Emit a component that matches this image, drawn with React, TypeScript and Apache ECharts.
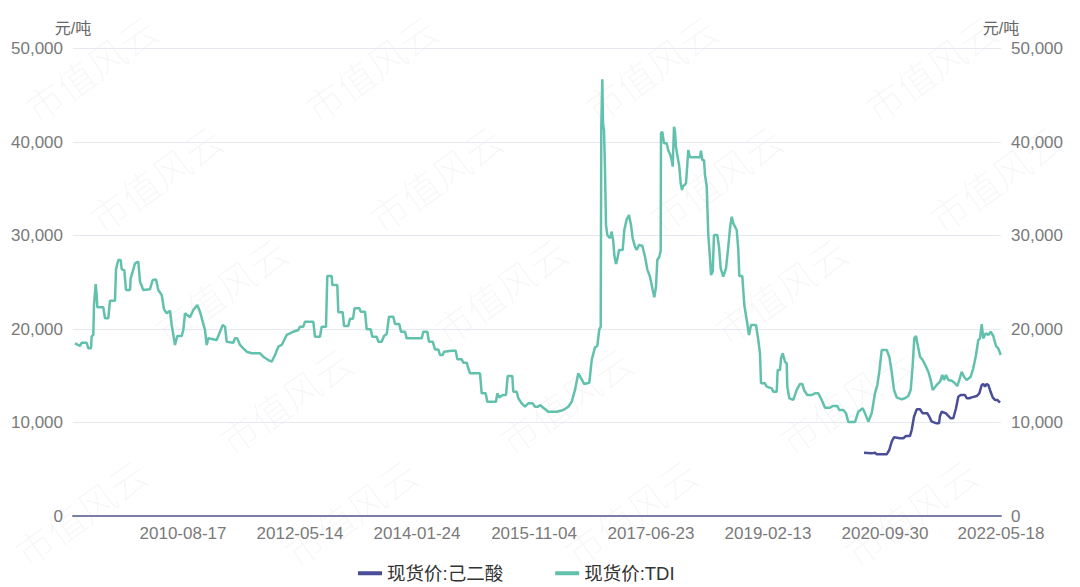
import React, { useEffect, useRef } from "react";
import * as echarts from "echarts";

// x = position index along the (trading-period) category scale
const xLabels = ["2010-08-17", "2012-05-14", "2014-01-24", "2015-11-04", "2017-06-23", "2019-02-13", "2020-09-30", "2022-05-18"];
const xLabelIdx = [110, 227, 344, 461, 578, 695, 812, 928];
const xMax = 928;

const seriesNames = ["现货价:己二酸", "现货价:TDI"];

const adipicData: [number, number][] = [
  [791, 6770], [798.7, 6700], [802, 6770], [803.7, 6600], [813.7, 6600], [816.3, 7060], [818.7, 7950], [821, 8420],
  [827, 8310], [830.3, 8310], [833, 8560], [837, 8560], [838.7, 9200], [841, 10620], [843.7, 11410], [847, 11410],
  [849.7, 10980], [854.3, 10980], [856.3, 10620], [858.7, 10090], [863.7, 9910], [866, 9910], [867, 10700], [868.7, 11150],
  [873, 10980], [875.3, 10700], [877.7, 10450], [880.3, 10450], [883, 11520], [885.3, 12760], [887.7, 12940], [892, 12940],
  [893.7, 12590], [896.3, 12590], [898.7, 12690], [903.7, 12830], [906.3, 13120], [908.7, 14010], [910.3, 14120], [912, 13830],
  [913.7, 14120], [915.3, 14010], [917, 13480], [919.7, 12690], [922, 12410], [924.3, 12410], [927, 12120],
];

const tdiData: [number, number][] = [
  [2, 18470], [7, 18200], [8.7, 18530], [13.7, 18530], [15.3, 17930], [18, 17930], [18.7, 19250], [20.3, 19350],
  [21, 22570], [22.7, 24810], [23.7, 23630], [24.3, 22320], [30.3, 22320], [32, 21140], [35.3, 21140], [37, 23030],
  [42, 23030], [43, 26380], [45.3, 27380], [47.7, 27380], [48.7, 26380], [51.3, 26300], [53, 24170], [57, 24170],
  [57.7, 25420], [59.7, 26130], [62, 27020], [65.3, 27200], [67, 25060], [70.3, 24170], [77, 24250], [79.7, 25240],
  [83, 25310], [85.3, 24170], [88.7, 23630], [91, 22100], [93.7, 21680], [97, 21960], [98.7, 20430], [102, 18290],
  [104.3, 19250], [108.7, 19250], [110.3, 19890], [112, 21680], [117, 21250], [120.3, 22030], [124.3, 22570], [127, 21850],
  [129.7, 20780], [132, 19890], [133.7, 18290], [135.3, 19000], [143.7, 18820], [147, 19710], [149.7, 20430], [152, 20250],
  [153.7, 18640], [160.3, 18530], [162, 19000], [164.3, 19000], [167, 18290], [170.3, 17930], [173.7, 17570], [178.7, 17400],
  [187, 17400], [190.3, 17040], [195.3, 16680], [198.7, 16500], [202, 17220], [205.3, 18110], [208.7, 18290], [213.7, 19360],
  [217, 19540], [220.3, 19710], [225.3, 19890], [227, 20250], [230.3, 20250], [232, 20780], [240.3, 20780], [242, 19180],
  [247, 19180], [248.7, 20250], [253, 20250], [254.3, 25670], [258.7, 25670], [259.3, 24710], [264.3, 24710], [265.3, 21800],
  [269.7, 21800], [271, 20320], [275.3, 20320], [277, 21090], [280, 21090], [281.5, 22210], [286.5, 22210], [287.7, 21850],
  [292, 21850], [293.7, 19960], [297.7, 19960], [299.3, 19180], [303.7, 19180], [305.3, 18640], [308.7, 18640], [311, 19250],
  [313.7, 19460], [316, 21320], [320.3, 21320], [322, 20530], [326.3, 20530], [328, 19710], [332, 19710], [333.7, 19000],
  [348.7, 19000], [350.3, 19710], [354.3, 19710], [356, 18640], [359.7, 18640], [362, 17820], [365.3, 17820], [367, 17220],
  [369.7, 17220], [371, 17570], [378.7, 17680], [382.7, 17680], [384.3, 16760], [388.7, 16760], [390.3, 16400], [393.7, 16400],
  [395.3, 15800], [397, 15260], [407, 15260], [408.7, 13120], [412.7, 13120], [414.3, 12220], [423, 12220], [424.3, 13120],
  [426.3, 12690], [429.7, 12940], [433, 12940], [434.7, 14970], [439.3, 14970], [440.3, 13290], [443.7, 13290], [445.3, 12590],
  [448.7, 12050], [452, 11690], [455.3, 12050], [459.7, 12050], [462, 11690], [465.3, 11690], [467, 11870], [470.3, 11580],
  [475.3, 11150], [483.7, 11150], [490.3, 11340], [495.3, 11690], [498.7, 12220], [502, 13480], [505.3, 15260], [508.7, 14620],
  [511, 14120], [516.3, 14260], [518.7, 16680], [522, 18040], [524.3, 18180], [526.3, 19960], [527.7, 20250], [528.3, 41640],
  [529.3, 46700], [530, 42000], [531, 41280], [532, 37000], [533, 31120], [534.3, 30050], [537, 29700], [538.7, 30410],
  [540.3, 29340], [541.3, 27910], [543, 26950], [544.3, 27450], [546, 28450], [549.7, 28450], [551.3, 30590], [553.7, 31730],
  [556, 32190], [558, 31120], [559.7, 29700], [562, 28800], [563.7, 28450], [566, 28980], [569.3, 28900], [572, 27730],
  [574.3, 26380], [577, 25590], [579.7, 24170], [581.3, 23390], [583, 24520], [584.3, 27380], [586.3, 27730], [587.7, 28370],
  [588, 40930], [589.3, 41100], [591, 39860], [593.7, 39860], [595.3, 39070], [597, 38720], [598.7, 38070], [599.7, 37360],
  [601, 41640], [602, 41100], [603, 39430], [604.3, 38610], [606.3, 37360], [607.7, 35580], [609, 34870], [610.3, 35290],
  [613, 35580], [615.3, 39140], [617, 38360], [627, 38360], [628, 39070], [629.3, 38070], [631, 38070], [632, 36470],
  [633.7, 35290], [635.3, 30050], [637, 27560], [638, 25770], [639.7, 26130], [641, 30050], [644.3, 30050], [646, 28800],
  [647.7, 26490], [650.3, 25590], [653, 26490], [655.3, 28800], [657, 30770], [658.7, 32010], [660.3, 31300], [663.7, 30590],
  [665.3, 28450], [666.3, 25670], [669.3, 25670], [671.3, 22570], [673.7, 20960], [676, 19360], [678, 20430], [683, 20430],
  [685.3, 18820], [687, 17400], [688, 14190], [692, 14190], [693.7, 13830], [698.7, 13650], [700.3, 13290], [703.7, 13290],
  [704.7, 15610], [707, 15610], [708, 16870], [709.7, 17400], [712, 16500], [713.7, 16330], [714.3, 13830], [716.3, 12590],
  [720.3, 12410], [723.7, 13480], [727, 14120], [729.3, 14120], [731, 13480], [734.3, 12940], [738.7, 12940], [742, 13120],
  [745.3, 13120], [748.7, 12410], [752, 11580], [757, 11580], [759.7, 11760], [764.3, 11760], [766.3, 11340], [770.3, 11340],
  [773, 10980], [775.3, 10050], [782, 10050], [785.3, 11150], [789.7, 11520], [792, 10980], [795.3, 10090], [798.7, 10980],
  [802, 13120], [804.3, 14010], [806.3, 15430], [808.7, 17750], [813.7, 17750], [816.3, 17040], [818.7, 15430], [821, 13480],
  [823.7, 12690], [828.7, 12480], [832, 12590], [835.3, 12830], [837.7, 13480], [839.7, 16150], [841.3, 19000], [843, 19250],
  [844.7, 18290], [847, 17040], [849.7, 16680], [853, 15970], [855.3, 15430], [857.7, 14550], [859.7, 13480], [863.7, 14010],
  [867, 14360], [869.3, 15080], [871, 14550], [873, 15080], [875.3, 14550], [878.7, 14470], [882, 14190], [884.3, 13900],
  [886.3, 14550], [888.7, 15430], [891, 14900], [893.7, 14550], [897.7, 14900], [900.3, 15800], [903, 17220], [905.3, 18820],
  [907, 19000], [908.7, 20530], [910.3, 19000], [912.7, 19540], [915.3, 19360], [917.7, 19710], [920.3, 19250], [923, 18180],
  [925.3, 17930], [927.7, 17220],
];

const FONT = "'Liberation Sans', Arial, 'Noto Sans CJK SC', sans-serif";

function fmt(v: number) {
  return String(v).replace(/\B(?=(\d{3})+(?!\d))/g, ",");
}

function watermarks() {
  const els: any[] = [];
  const rowsY = [68, 178, 290, 400, 512];
  for (let k = 0; k < rowsY.length; k++) {
    for (let m = -1; m < 5; m++) {
      let cx = 90 + 65 * k + 280 * m;
      if (cx < 40 || cx > 1040) continue;
      cx = Math.min(Math.max(cx, 80), 1000);
      els.push({
        type: "text",
        x: cx,
        y: rowsY[k],
        rotation: 0.62,
        z: -10,
        silent: true,
        style: {
          text: "市值风云",
          fill: "rgba(0,0,0,0.04)",
          font: "300 38px 'Noto Sans CJK SC', sans-serif",
          align: "center",
          verticalAlign: "middle",
        },
      });
    }
  }
  return els;
}

export default function App() {
  const ref = useRef<HTMLDivElement>(null);
  useEffect(() => {
    document.body.style.margin = "0";
    if (!ref.current) return;
    const chart = echarts.init(ref.current, undefined, { renderer: "svg" });
    const yAxisBase = {
      type: "value",
      min: 0,
      max: 50000,
      interval: 10000,
      name: "元/吨",
      nameLocation: "end",
      nameGap: 12,
      nameTextStyle: { color: "#666", fontSize: 16, fontFamily: FONT },
      axisLine: { show: false },
      axisTick: { show: false },
      axisLabel: {
        color: "#7a7a7a",
        fontSize: 17,
        lineHeight: 17,
        fontFamily: FONT,
        margin: 10,
        formatter: (v: number) => fmt(v),
      },
    };
    chart.setOption({
      animation: false,
      textStyle: { fontFamily: FONT },
      grid: { left: 73, right: 79, top: 48.5, bottom: 71, outerBoundsMode: "none" },
      graphic: watermarks(),
      legend: {
        data: seriesNames,
        left: 353,
        top: 559,
        icon: "rect",
        itemWidth: 24,
        itemHeight: 4,
        itemGap: 52,
        textStyle: { color: "#333", fontSize: 18.5, fontFamily: FONT },
      },
      xAxis: {
        type: "value",
        min: 0,
        max: xMax,
        splitLine: { show: false },
        axisTick: { show: false },
        axisLine: { show: true, lineStyle: { color: "#7a7ea6", width: 2 } },
        axisLabel: {
          customValues: xLabelIdx,
          color: "#7a7a7a",
          fontSize: 17,
          lineHeight: 17,
          fontFamily: FONT,
          margin: 9,
          showMinLabel: true,
          showMaxLabel: true,
          formatter: (v: number) => {
            const i = xLabelIdx.findIndex((p) => Math.abs(p - v) < 0.5);
            return i >= 0 ? xLabels[i] : "";
          },
        },
      },
      yAxis: [
        {
          ...yAxisBase,
          position: "left",
          splitLine: { show: true, lineStyle: { color: "#e8e8f1", width: 1 } },
        },
        {
          ...yAxisBase,
          position: "right",
          splitLine: { show: false },
        },
      ],
      series: [
        {
          name: seriesNames[0],
          type: "line",
          yAxisIndex: 0,
          data: adipicData,
          symbol: "none",
          showSymbol: false,
          lineStyle: { color: "#4a4e97", width: 2.5 },
          itemStyle: { color: "#4a4e97" },
          z: 3,
        },
        {
          name: seriesNames[1],
          type: "line",
          yAxisIndex: 1,
          data: tdiData,
          symbol: "none",
          showSymbol: false,
          lineStyle: { color: "#62c1ad", width: 2.5 },
          itemStyle: { color: "#62c1ad" },
          z: 2,
        },
      ],
    });
    return () => chart.dispose();
  }, []);
  return (
    <div
      ref={ref}
      style={{ position: "fixed", left: 0, top: 0, width: 1080, height: 587, background: "#fff" }}
    />
  );
}
